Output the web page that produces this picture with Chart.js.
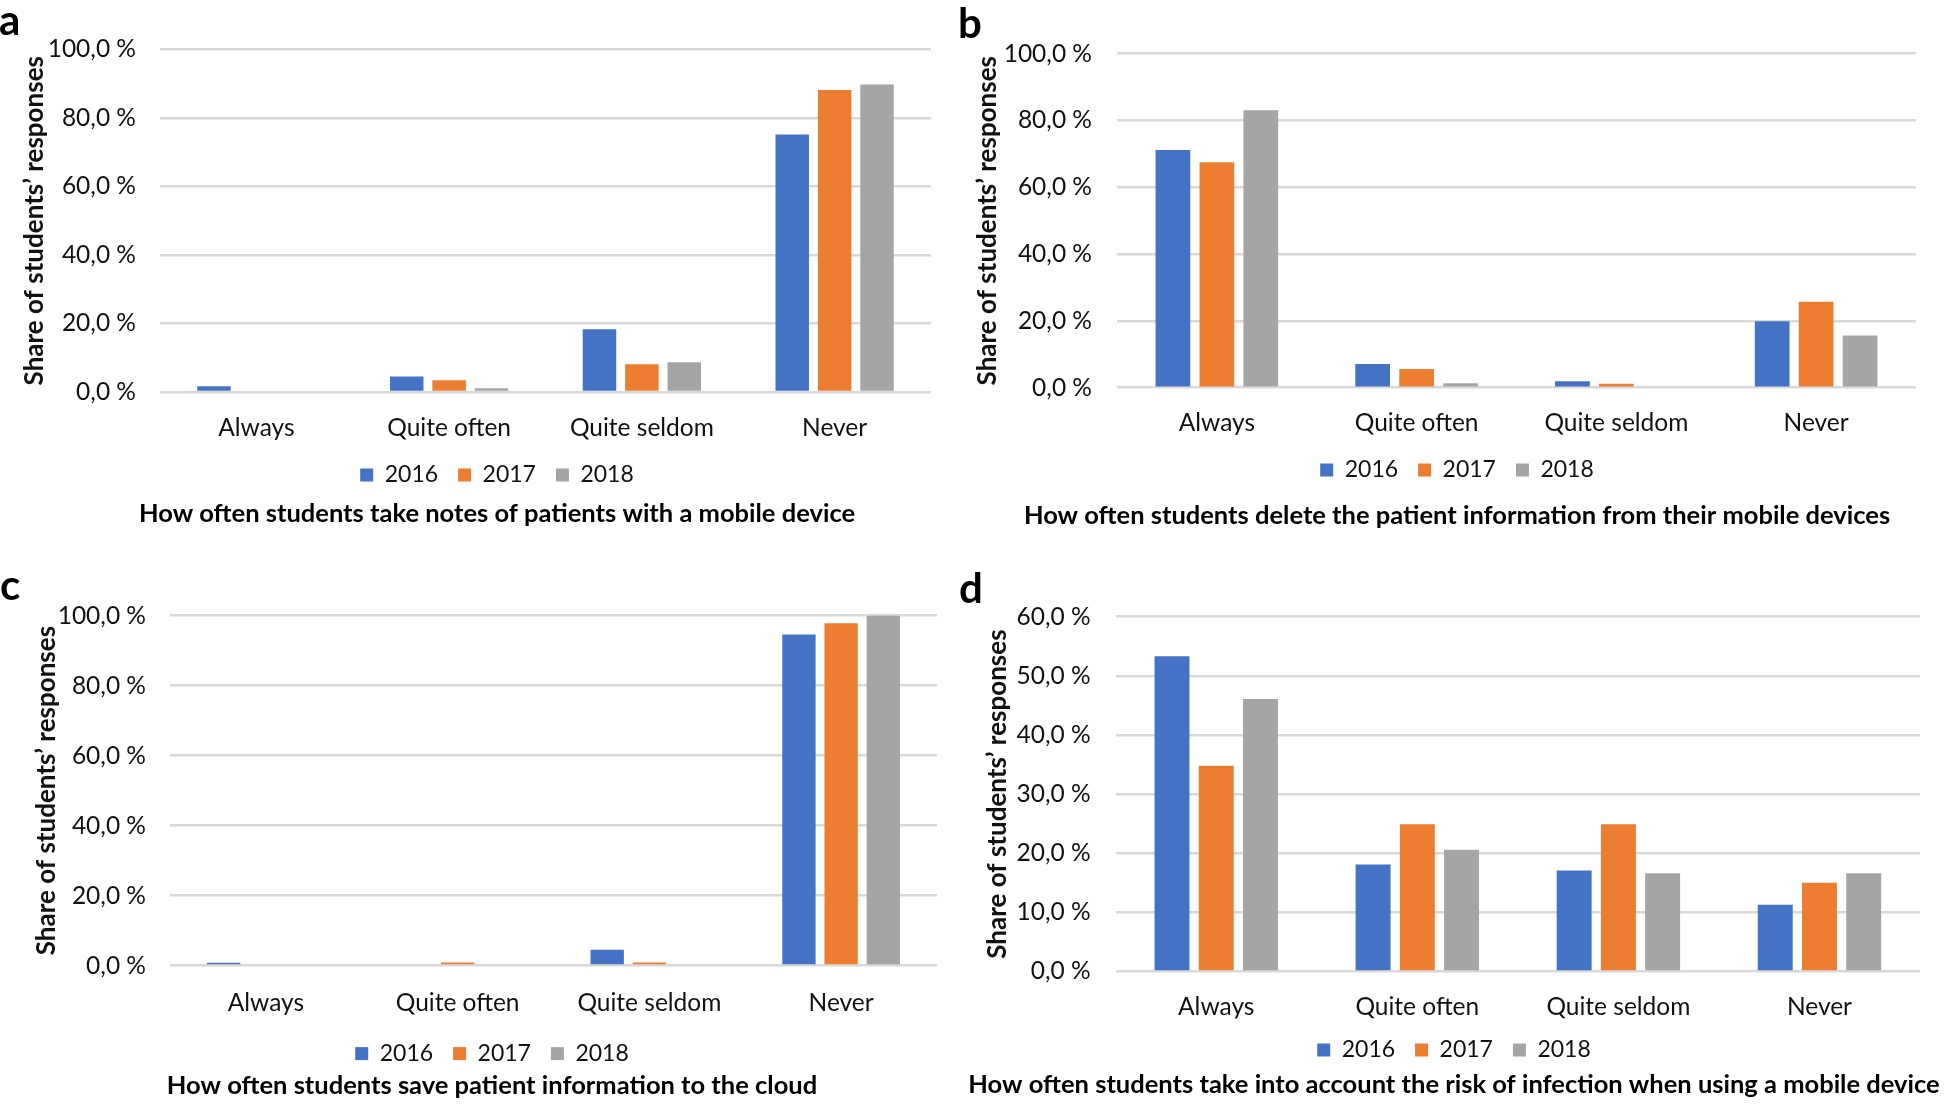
<!DOCTYPE html>
<html>
<head>
<meta charset="utf-8">
<script src="https://cdn.jsdelivr.net/npm/chart.js@4.4.1/dist/chart.umd.min.js"></script>
<style>
body { margin: 0; background: #fff; width: 1944px; height: 1105px; position: relative; overflow: hidden; }
.panel { position: absolute; width: 984px; height: 545px; }
.letter { position: absolute; font: bold 42px Lato, sans-serif; line-height: 42px; height: 42px; color: #000; }
</style>
</head>
<body>
<div class="panel" style="left:0;top:0"><canvas id="chartA" width="984" height="545"></canvas></div>
<div class="panel" style="left:960px;top:0"><canvas id="chartB" width="984" height="545"></canvas></div>
<div class="panel" style="left:0;top:560px"><canvas id="chartC" width="984" height="545"></canvas></div>
<div class="panel" style="left:960px;top:560px"><canvas id="chartD" width="984" height="545"></canvas></div>
<div class="letter" style="left:-1px;top:-2px">a</div>
<div class="letter" style="left:958px;top:1px">b</div>
<div class="letter" style="left:0;top:563px">c</div>
<div class="letter" style="left:959px;top:566px">d</div>
<script>
// answers and years
const categories = ["Always", "Quite often", "Quite seldom", "Never"];
const years = ["2016", "2017", "2018"];
const colors = ["#4472C4", "#ED7D31", "#A5A5A5"];

// a - taking notes with a mobile device
const notes2016 = [1.7, 4.5, 18.3, 75.2];
const notes2017 = [0, 3.4, 8.1, 88.2];
const notes2018 = [0, 1.1, 8.7, 89.8];

// b - deleting patient information
const delete2016 = [71.2, 7.1, 1.9, 19.9];
const delete2017 = [67.5, 5.6, 1.2, 25.7];
const delete2018 = [83.1, 1.3, 0, 15.6];

// c - saving to the cloud
const cloud2016 = [0.8, 0, 4.5, 94.6];
const cloud2017 = [0, 0.9, 0.9, 97.8];
const cloud2018 = [0, 0, 0, 100];

// d - risk of infection
const infection2016 = [53.3, 18.1, 17.1, 11.3];
const infection2017 = [34.8, 24.9, 24.9, 15.0];
const infection2018 = [46.1, 20.6, 16.6, 16.6];

const yTitle = "Share of students\u2019 responses";

Chart.defaults.font.family = "Lato";
Chart.defaults.color = "#111";

const W = 984, H = 545;
const tickFont = 24.5, legendFont = 23, legendBox = 13, legendPad = 20, titleFont = 25.5, yTitleFont = 26;

function makeChart(id, series, yMax, yStep, title, g) {
    const itemH = Math.max(legendFont, legendBox);
    const xAxisHeight = g.legendY - legendPad - itemH / 2 - g.plotBottom;
    const titleTop = g.titleY - titleFont / 2 - (g.legendY + itemH / 2 + 10);
    const titleBottom = H - g.titleY - titleFont / 2;

    const datasets = years.map((y, i) => ({
        label: y,
        data: series[i],
        backgroundColor: colors[i],
        borderWidth: 0,
        categoryPercentage: 0.66,
        barPercentage: 0.79
    }));

    return new Chart(document.getElementById(id), {
        type: "bar",
        data: { labels: categories, datasets: datasets },
        options: {
            responsive: false,
            animation: false,
            layout: { padding: { left: g.padL, right: g.padR, top: g.plotTop, bottom: 0 } },
            scales: {
                x: {
                    grid: { display: false },
                    border: { display: false },
                    ticks: { font: { size: tickFont }, padding: g.labelY - g.plotBottom - 22 },
                    afterFit: s => { s.height = xAxisHeight; }
                },
                y: {
                    min: 0,
                    max: yMax,
                    grid: { color: "#D9D9D9", lineWidth: 2.5, drawTicks: false },
                    border: { display: false },
                    ticks: {
                        stepSize: yStep,
                        font: { size: tickFont },
                        padding: g.tickGap,
                        callback: v => v.toFixed(1).replace(".", ",") + " %"
                    },
                    title: {
                        display: true,
                        text: yTitle,
                        color: "#111",
                        font: { weight: "bold", size: yTitleFont },
                        padding: { top: g.yTitleX - g.padL - yTitleFont * 0.6, bottom: 0 }
                    },
                    afterFit: s => { s.width = g.plotLeft - g.padL; }
                },
                y2: {
                    type: "linear",
                    position: "right",
                    grid: { display: false },
                    border: { display: false },
                    ticks: { display: false },
                    afterFit: s => { s.width = W - g.padR - g.plotRight; }
                }
            },
            plugins: {
                legend: {
                    position: "bottom",
                    labels: { boxWidth: legendBox, boxHeight: legendBox, padding: legendPad, font: { size: legendFont } }
                },
                title: {
                    display: true,
                    position: "bottom",
                    text: title,
                    color: "#000",
                    font: { size: titleFont, weight: "bold", lineHeight: 1 },
                    padding: { top: titleTop, bottom: titleBottom }
                },
                tooltip: { enabled: false }
            }
        }
    });
}

makeChart("chartA", [notes2016, notes2017, notes2018], 100, 20,
    "How often students take notes of patients with a mobile device",
    { padL: 10, padR: 0, plotLeft: 160, plotRight: 931, plotTop: 49.5, plotBottom: 392, yTitleX: 35, tickGap: 24, labelY: 427, legendY: 475, titleY: 513.5 });

makeChart("chartB", [delete2016, delete2017, delete2018], 100, 20,
    "How often students delete the patient information from their mobile devices",
    { padL: 10, padR: 0, plotLeft: 157, plotRight: 956, plotTop: 53.7, plotBottom: 387.7, yTitleX: 28, tickGap: 25, labelY: 422, legendY: 470, titleY: 516 });

makeChart("chartC", [cloud2016, cloud2017, cloud2018], 100, 20,
    "How often students save patient information to the cloud",
    { padL: 20, padR: 20, plotLeft: 170, plotRight: 937, plotTop: 55.6, plotBottom: 405.6, yTitleX: 46.5, tickGap: 24, labelY: 442, legendY: 493.6, titleY: 526 });

makeChart("chartD", [infection2016, infection2017, infection2018], 60, 10,
    "How often students take into account the risk of infection when using a mobile device",
    { padL: 4, padR: 0, plotLeft: 155.7, plotRight: 960, plotTop: 56.7, plotBottom: 411.5, yTitleX: 37.7, tickGap: 25, labelY: 446, legendY: 490, titleY: 524.5 });
</script>
</body>
</html>
